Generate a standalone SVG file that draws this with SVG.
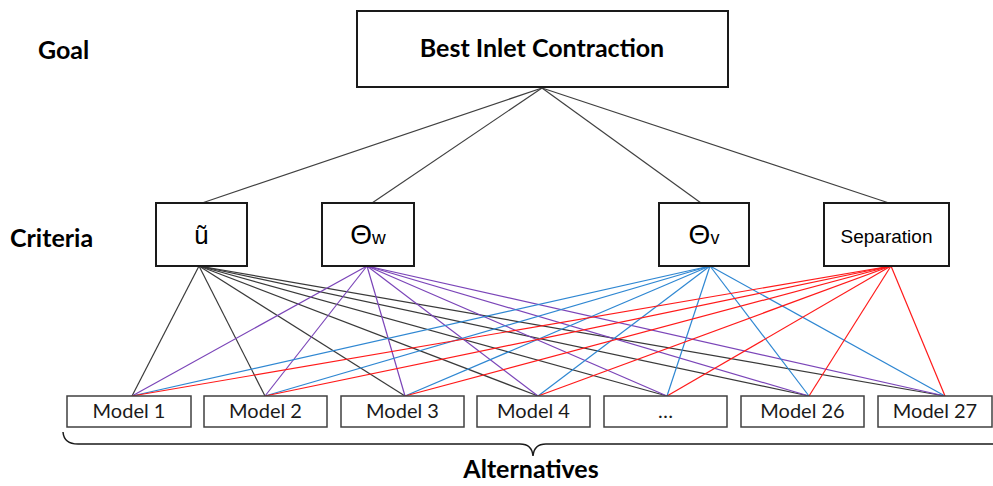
<svg xmlns="http://www.w3.org/2000/svg" width="993" height="486" viewBox="0 0 993 486">
<style>
.lbl{font-family:Lato,"Liberation Sans",sans-serif;font-weight:bold;font-size:25px;fill:#000}
.box{fill:#fff;stroke:#1a1a1a;stroke-width:2}
.mbox{fill:#fff;stroke:#404040;stroke-width:1.5}
.crit{font-family:"Liberation Sans",Arial,sans-serif;fill:#000;text-anchor:middle}
.mtxt{font-family:Lato,"Liberation Sans",sans-serif;font-size:20px;fill:#1a1a1a;text-anchor:middle}
.g{stroke:#404040;stroke-width:1.2;fill:none}
.k{stroke:#3a3a3a;stroke-width:1.2;fill:none}
.p{stroke:#7b45b8;stroke-width:1.2;fill:none}
.b{stroke:#2f87d2;stroke-width:1.2;fill:none}
.r{stroke:#ff1a1a;stroke-width:1.2;fill:none}
</style>
<rect width="993" height="486" fill="#fff"/>
<g id="level-labels">
<text class="lbl" x="38" y="59">Goal</text>
<text class="lbl" x="10" y="247">Criteria</text>
<text class="lbl" x="531" y="478" text-anchor="middle">Alternatives</text>
</g>
<g id="connectors">
<g id="goal-links">
<line class="g" x1="542" y1="88" x2="202" y2="203"/>
<line class="g" x1="542" y1="88" x2="372" y2="203"/>
<line class="g" x1="542" y1="88" x2="701" y2="203"/>
<line class="g" x1="542" y1="88" x2="889" y2="203"/>
</g>
<g id="u-links">
<line class="k" x1="199" y1="266" x2="132" y2="396"/>
<line class="k" x1="199" y1="266" x2="265" y2="396"/>
<line class="k" x1="199" y1="266" x2="405" y2="396"/>
<line class="k" x1="199" y1="266" x2="538" y2="396"/>
<line class="k" x1="199" y1="266" x2="667" y2="396"/>
<line class="k" x1="199" y1="266" x2="809" y2="396"/>
<line class="k" x1="199" y1="266" x2="945" y2="396"/>
</g>
<g id="thw-links">
<line class="p" x1="367" y1="266" x2="132" y2="396"/>
<line class="p" x1="367" y1="266" x2="265" y2="396"/>
<line class="p" x1="367" y1="266" x2="405" y2="396"/>
<line class="p" x1="367" y1="266" x2="538" y2="396"/>
<line class="p" x1="367" y1="266" x2="667" y2="396"/>
<line class="p" x1="367" y1="266" x2="809" y2="396"/>
<line class="p" x1="367" y1="266" x2="945" y2="396"/>
</g>
<g id="thv-links">
<line class="b" x1="710" y1="266" x2="132" y2="396"/>
<line class="b" x1="710" y1="266" x2="265" y2="396"/>
<line class="b" x1="710" y1="266" x2="405" y2="396"/>
<line class="b" x1="710" y1="266" x2="538" y2="396"/>
<line class="b" x1="710" y1="266" x2="667" y2="396"/>
<line class="b" x1="710" y1="266" x2="809" y2="396"/>
<line class="b" x1="710" y1="266" x2="945" y2="396"/>
</g>
<g id="sep-links">
<line class="r" x1="891" y1="266" x2="132" y2="396"/>
<line class="r" x1="891" y1="266" x2="265" y2="396"/>
<line class="r" x1="891" y1="266" x2="405" y2="396"/>
<line class="r" x1="891" y1="266" x2="538" y2="396"/>
<line class="r" x1="891" y1="266" x2="667" y2="396"/>
<line class="r" x1="891" y1="266" x2="809" y2="396"/>
<line class="r" x1="891" y1="266" x2="945" y2="396"/>
</g>
</g>
<g id="goal">
<rect class="box" x="357" y="11" width="371" height="76"/>
<text class="lbl" x="542" y="57" text-anchor="middle">Best Inlet Contraction</text>
</g>
<g id="crit-u">
<rect class="box" x="156" y="203" width="91" height="63"/>
<text class="crit" x="201.5" y="244" font-size="26">ũ</text>
</g>
<g id="crit-theta-w">
<rect class="box" x="322" y="203" width="92" height="63"/>
<text class="crit" x="368" y="244" font-size="28">Θ<tspan font-size="19">w</tspan></text>
</g>
<g id="crit-theta-v">
<rect class="box" x="659" y="203" width="90" height="63"/>
<text class="crit" x="704" y="244" font-size="28">Θ<tspan font-size="18">v</tspan></text>
</g>
<g id="crit-separation">
<rect class="box" x="824" y="203" width="125" height="63"/>
<text class="crit" x="886.5" y="243" font-size="19">Separation</text>
</g>
<g id="model-1"><rect class="mbox" x="67" y="396" width="124" height="31"/><text class="mtxt" x="129" y="418">Model 1</text></g>
<g id="model-2"><rect class="mbox" x="204" y="396" width="123" height="31"/><text class="mtxt" x="265.5" y="418">Model 2</text></g>
<g id="model-3"><rect class="mbox" x="341" y="396" width="123" height="31"/><text class="mtxt" x="402.5" y="418">Model 3</text></g>
<g id="model-4"><rect class="mbox" x="477" y="396" width="113" height="31"/><text class="mtxt" x="533.5" y="418">Model 4</text></g>
<g id="model-dots"><rect class="mbox" x="604" y="396" width="123" height="31"/><text class="mtxt" x="665.5" y="418">…</text></g>
<g id="model-26"><rect class="mbox" x="741" y="396" width="123" height="31"/><text class="mtxt" x="802.5" y="418">Model 26</text></g>
<g id="model-27"><rect class="mbox" x="878" y="396" width="114" height="31"/><text class="mtxt" x="935" y="418">Model 27</text></g>
<g id="brace">
<path d="M63,432 Q64,444 78,444 L520,444 Q532,444 533,456 Q534,444 546,444 L993,444" fill="none" stroke="#1a1a1a" stroke-width="1.5"/>
</g>
</svg>
